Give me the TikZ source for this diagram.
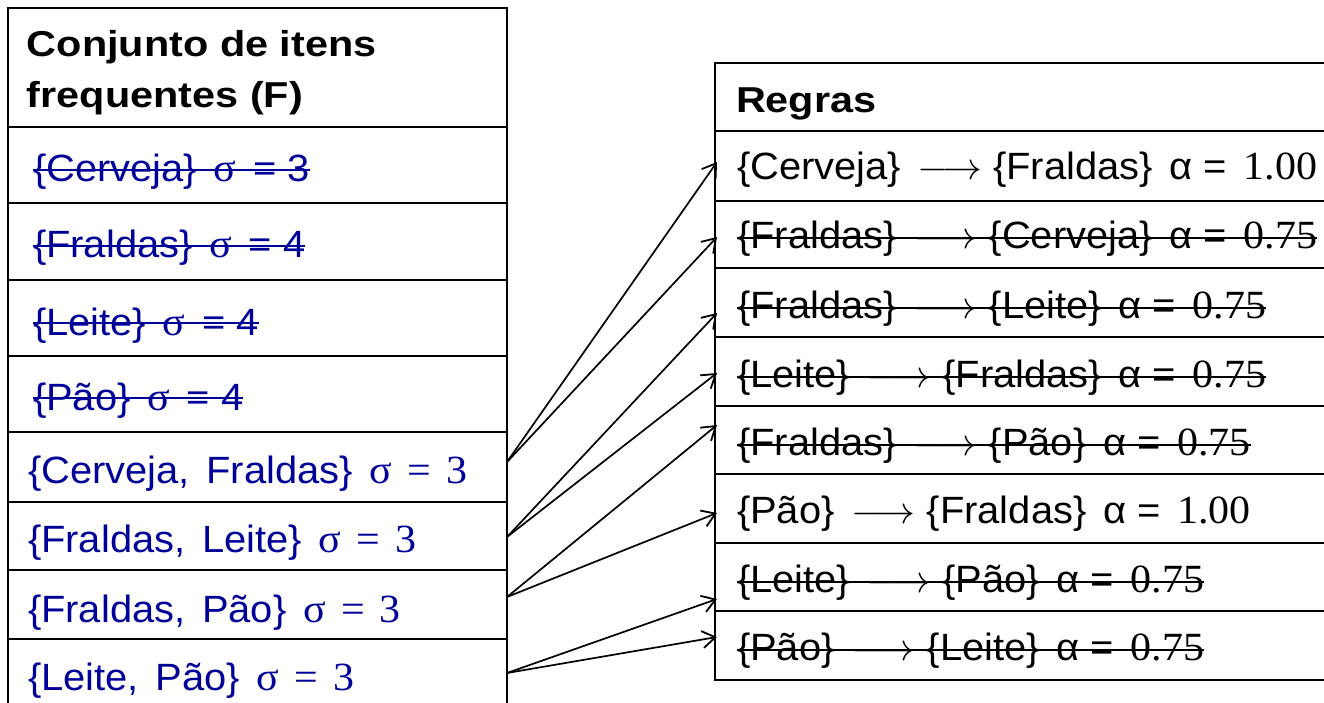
\RequirePackage{fix-cm}
\documentclass[tikz,border=0pt]{standalone}
\usepackage{graphicx}
\usepackage{fontspec}
\setmainfont{Liberation Sans}
\newfontfamily\serif{Liberation Serif}
\usetikzlibrary{arrows.meta,calc}
\definecolor{navy}{RGB}{0,0,153}
\newcommand\strikeit[3]{\draw[#1, line width=1.7pt] ($(#2.base west)+(0,-#3)$) -- ($(#2.base east)+(0,-#3)$);}
\newcommand\sx[1]{\scalebox{1.05}[1]{#1}}
\newcommand\hx[1]{\scalebox{1.15}[1]{#1}}
\newcommand\gp{\hspace{0.42em}}
\newcommand\sig{{\serif\fontsize{40}{44}\selectfont σ}}
\newcommand\sgn[1]{{\serif\fontsize{40}{44}\selectfont σ\hspace{0.36em}=\hspace{0.36em}#1}}
\newcommand\num[1]{{\serif\fontsize{40}{44}\selectfont #1}}
\newcommand\la{$\longrightarrow$}
\tikzset{
  cell/.style={draw, line width=2pt, anchor=north west, inner sep=0pt, outer sep=0pt, minimum width=#1},
  lcell/.style={cell=499pt},
  rcell/.style={cell=620pt},
  txt/.style={anchor=base west, inner sep=0pt, outer sep=0pt, font=\fontsize{38}{44}\selectfont},
  hdr/.style={txt, font=\fontsize{36}{44}\selectfont\bfseries},
  btxt/.style={txt, text=navy},
  arr/.style={line width=1.7pt, -{Straight Barb[length=13pt,width=17pt,line width=1.8pt]}}
}
\begin{document}
\begin{tikzpicture}[x=1pt,y=-1pt]
\clip (0,0) rectangle (1324,703);
\fill[white] (0,0) rectangle (1324,703);
% left table cells
\node[lcell, minimum height=119pt] (lh) at (8,8) {};
\node[lcell, minimum height=76pt] (l1) at (8,127) {};
\node[lcell, minimum height=77pt] (l2) at (8,203) {};
\node[lcell, minimum height=76pt] (l3) at (8,280) {};
\node[lcell, minimum height=76pt] (l4) at (8,356) {};
\node[lcell, minimum height=70pt] (l5) at (8,432) {};
\node[lcell, minimum height=68pt] (l6) at (8,502) {};
\node[lcell, minimum height=69pt] (l7) at (8,570) {};
\node[lcell, minimum height=80pt] (l8) at (8,639) {};
% right table cells
\node[rcell, minimum height=68pt] (rh) at (715,63) {};
\node[rcell, minimum height=70pt] (r1) at (715,131) {};
\node[rcell, minimum height=67pt] (r2) at (715,201) {};
\node[rcell, minimum height=69pt] (r3) at (715,268) {};
\node[rcell, minimum height=69pt] (r4) at (715,337) {};
\node[rcell, minimum height=68pt] (r5) at (715,406) {};
\node[rcell, minimum height=69pt] (r6) at (715,474) {};
\node[rcell, minimum height=68pt] (r7) at (715,543) {};
\node[rcell, minimum height=69pt] (r8) at (715,611) {};
% left texts
\node[hdr] (lht1) at (27,57) {\hx{Conjunto de itens}};
\node[hdr] (lht2) at (27,108) {\hx{frequentes (F)}};
\node[btxt] (lt1) at (33,182) {\sx{\{Cerveja\}\gp\sig\gp= 3}};
\node[btxt] (lt2) at (33,258) {\sx{\{Fraldas\}\gp\sig\gp= 4}};
\node[btxt] (lt3) at (33,335) {\sx{\{Leite\}\gp\sig\gp= 4}};
\node[btxt] (lt4) at (33,410) {\sx{\{Pão\}\gp\sig\gp= 4}};
\node[btxt] (lt5) at (28,483) {\sx{\{Cerveja,\gp Fraldas\}\gp\sgn{3}}};
\node[btxt] (lt6) at (28,552) {\sx{\{Fraldas,\gp Leite\}\gp\sgn{3}}};
\node[btxt] (lt7) at (28,622) {\sx{\{Fraldas,\gp Pão\}\gp\sgn{3}}};
\node[btxt] (lt8) at (28,690) {\sx{\{Leite,\gp Pão\}\gp\sgn{3}}};
\strikeit{navy}{lt1}{12}
\strikeit{navy}{lt2}{12}
\strikeit{navy}{lt3}{12}
\strikeit{navy}{lt4}{12}
% right texts
\node[hdr] (rht) at (736,113) {\hx{Regras}};
\node[txt] (rt1) at (737,180) {\sx{\{Cerveja\}\gp\la\ \{Fraldas\}\gp α =\gp\num{1.00}}};
\node[txt] (rt2) at (737,248) {\sx{\{Fraldas\}\gp\la\ \{Cerveja\}\gp α =\gp\num{0.75}}};
\node[txt] (rt3) at (737,318) {\sx{\{Fraldas\}\gp\la\ \{Leite\}\gp α =\gp\num{0.75}}};
\node[txt] (rt4) at (737,387) {\sx{\{Leite\}\gp\la\ \{Fraldas\}\gp α =\gp\num{0.75}}};
\node[txt] (rt5) at (737,455) {\sx{\{Fraldas\}\gp\la\ \{Pão\}\gp α =\gp\num{0.75}}};
\node[txt] (rt6) at (737,523) {\sx{\{Pão\}\gp\la\ \{Fraldas\}\gp α =\gp\num{1.00}}};
\node[txt] (rt7) at (737,592) {\sx{\{Leite\}\gp\la\ \{Pão\}\gp α =\gp\num{0.75}}};
\node[txt] (rt8) at (737,660) {\sx{\{Pão\}\gp\la\ \{Leite\}\gp α =\gp\num{0.75}}};
\strikeit{black}{rt2}{10}
\strikeit{black}{rt3}{10}
\strikeit{black}{rt4}{10}
\strikeit{black}{rt5}{10}
\strikeit{black}{rt7}{10}
\strikeit{black}{rt8}{10}
% connector endpoints
\coordinate (s5) at (507,462);
\coordinate (s6) at (507,537);
\coordinate (s7) at (507,597);
\coordinate (s8) at (507,673);
\coordinate (t1) at (717,162);
\coordinate (t2) at (717,237);
\coordinate (t3) at (717,313);
\coordinate (t4) at (717,373);
\coordinate (t5) at (717,425);
\coordinate (t6) at (717,513);
\coordinate (t7) at (717,599);
\coordinate (t8) at (717,637);
\draw[arr] (s5) -- (t1);
\draw[arr] (s5) -- (t2);
\draw[arr] (s6) -- (t3);
\draw[arr] (s6) -- (t4);
\draw[arr] (s7) -- (t5);
\draw[arr] (s7) -- (t6);
\draw[arr] (s8) -- (t7);
\draw[arr] (s8) -- (t8);
\end{tikzpicture}
\end{document}
